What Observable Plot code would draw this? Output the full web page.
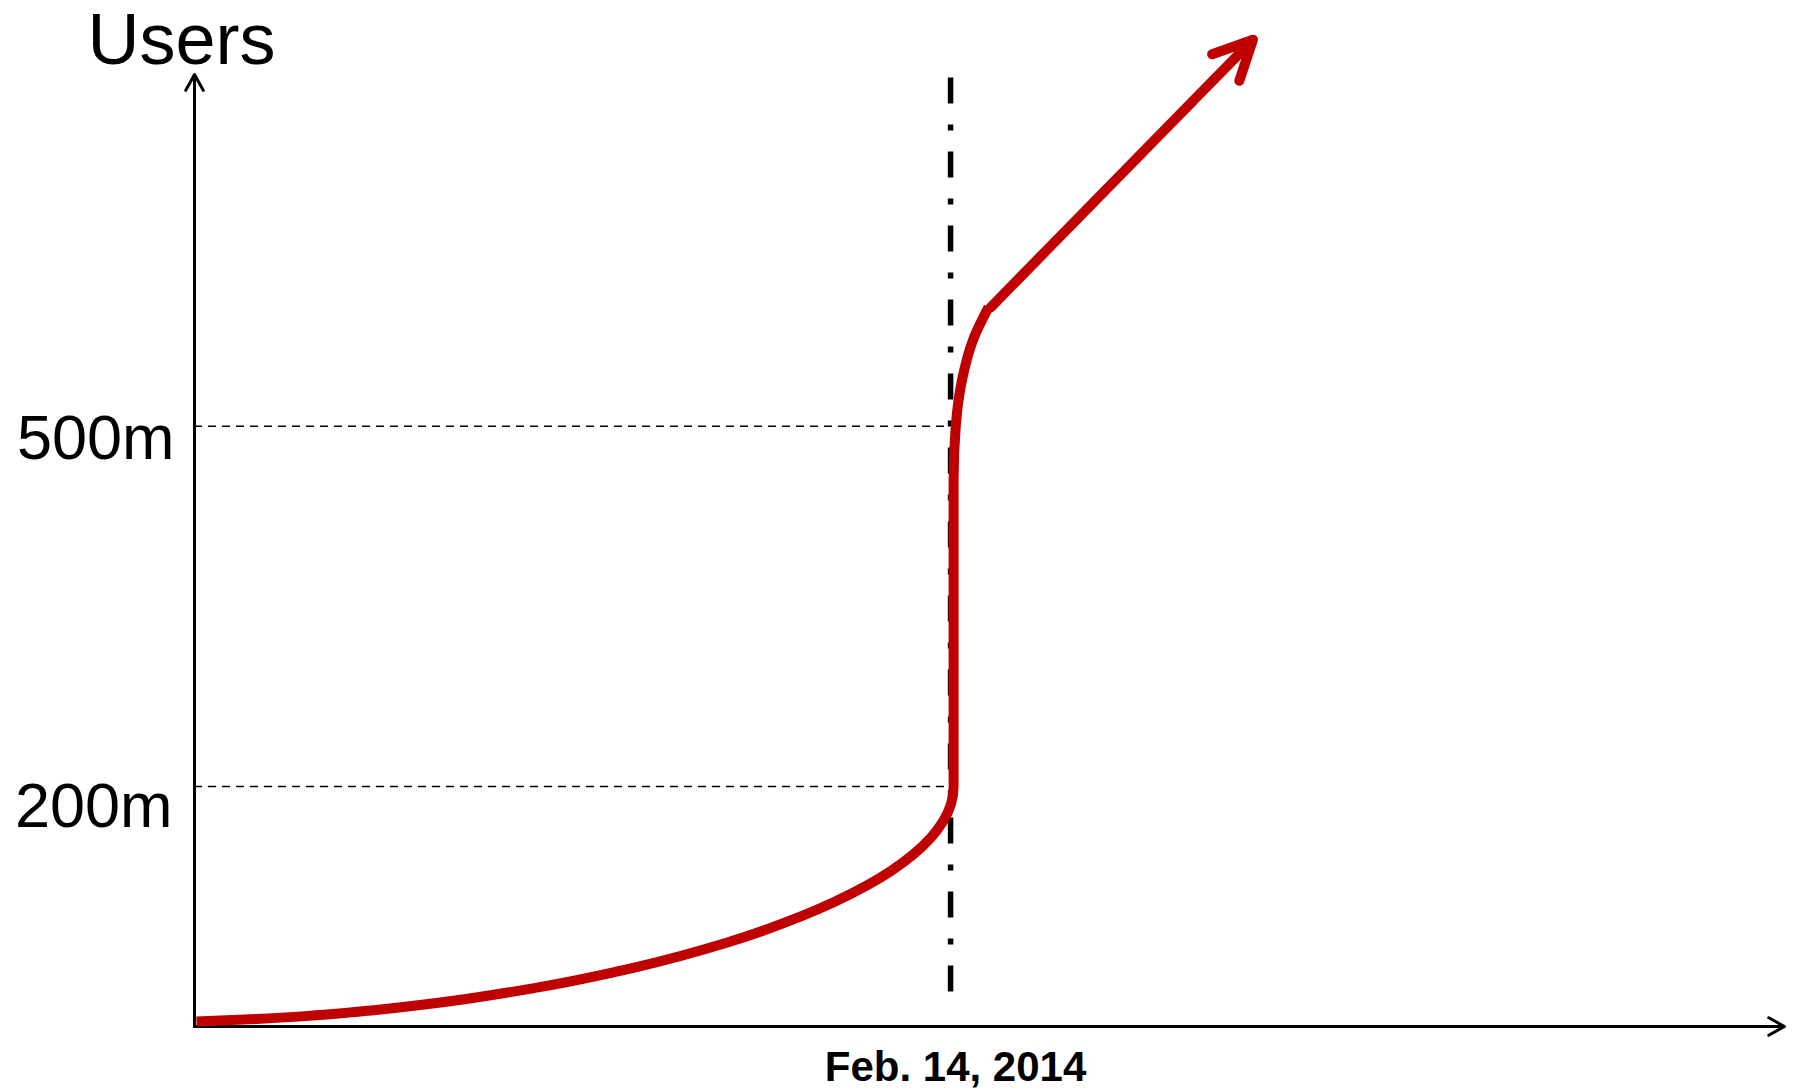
<!DOCTYPE html>
<html><head><meta charset="utf-8">
<script src="https://cdn.jsdelivr.net/npm/d3@7"></script>
<script src="https://cdn.jsdelivr.net/npm/@observablehq/plot@0.6"></script>
<style>
  html, body { margin: 0; padding: 0; background: #fff; }
  #chart svg { display: block; overflow: visible; }
</style>
</head><body><div id="chart"></div>
<script>
// ---- data (x = days, with Feb. 14, 2014 at day 1000; y = users in millions) ----
const curveDays  = [2.6, 82.1, 160.6, 237.3, 312, 454.5, 586, 703.7, 805.3, 888.8, 951.2, 990.3, 1000.5, 1004, 1004, 1004, 1004, 1007, 1015.7, 1030.2, 1050.3];
const curveUsers = [4.2, 6.2, 9.3, 13.6, 18.9, 32.6, 49.7, 69.75, 92.5, 117.25, 143.6, 171.1, 185.1, 199.2, 271.7, 355, 455, 501.2, 540.2, 572.7, 599.2];
const arrowDays  = [1053, 1400];
const arrowUsers = [599, 822];
const refLevels  = [200, 500];
const refLabels  = ["200m", "500m"];
const eventDay   = 1000;
const eventLabel = "Feb. 14, 2014";
const yTitle     = "Users";
const xMax = 2103, yMax = 793;

const curve = curveDays.map((d, i) => ({day: d, users: curveUsers[i]}));
const growth = [{x1: arrowDays[0], y1: arrowUsers[0], x2: arrowDays[1], y2: arrowUsers[1]}];
const axes = [{x1: 0, y1: 0, x2: 0, y2: yMax}, {x1: 0, y1: 0, x2: xMax, y2: 0}];
const fmt = d => refLabels[refLevels.indexOf(d)];

const red = "#c00000";
const plot = Plot.plot({
  width: 1793, height: 1091,
  marginTop: 74, marginRight: 9, marginBottom: 65, marginLeft: 194,
  style: {fontFamily: '"Liberation Sans", Arial, sans-serif', background: "white", color: "black", overflow: "visible"},
  x: {domain: [0, xMax], axis: null},
  y: {domain: [0, yMax], axis: null},
  marks: [
    Plot.ruleY(refLevels, {x1: 0, x2: eventDay, stroke: "black", strokeWidth: 1.5, strokeDasharray: "8,6", ariaLabel: "shadowed"}),
    Plot.ruleX([eventDay], {y1: 790, y2: 12, stroke: "black", strokeWidth: 5.5, strokeDasharray: "26,21,6,21", ariaLabel: "shadowed"}),
    Plot.arrow(axes, {x1: "x1", y1: "y1", x2: "x2", y2: "y2", stroke: "black", strokeWidth: 3, headLength: 9, headAngle: 58, ariaLabel: "shadowed"}),
    Plot.line(curve, {x: "day", y: "users", stroke: red, strokeWidth: 10, curve: "monotone-y", strokeLinecap: "butt", strokeLinejoin: "round"}),
    Plot.arrow(growth, {x1: "x1", y1: "y1", x2: "x2", y2: "y2", stroke: red, strokeWidth: 10, headLength: 6.5, headAngle: 52}),
    Plot.axisY([500], {tickSize: 0, tickPadding: 20, fontSize: 63, tickFormat: fmt, dy: 13, label: null}),
    Plot.axisY([200], {tickSize: 0, tickPadding: 22, fontSize: 63, tickFormat: fmt, dy: 20, label: null}),
    Plot.axisX([eventDay], {tickSize: 0, tickPadding: 25, fontSize: 42, fontWeight: "bold", tickFormat: () => eventLabel, dx: 5, label: null}),
    Plot.text([yTitle], {x: 0, y: yMax, text: d => d, fontSize: 72, dx: -13, dy: -11, lineAnchor: "bottom", textAnchor: "middle"})
  ]
});

// soft drop shadow on black lines (like the original slide)
const ns = "http://www.w3.org/2000/svg";
const defs = document.createElementNS(ns, "defs");
const filter = document.createElementNS(ns, "filter");
filter.setAttribute("id", "soft-shadow");
filter.setAttribute("filterUnits", "userSpaceOnUse");
filter.setAttribute("x", "0"); filter.setAttribute("y", "0");
filter.setAttribute("width", "1793"); filter.setAttribute("height", "1091");
const fe = document.createElementNS(ns, "feDropShadow");
fe.setAttribute("dx", "-3"); fe.setAttribute("dy", "3");
fe.setAttribute("stdDeviation", "4");
fe.setAttribute("flood-color", "black"); fe.setAttribute("flood-opacity", "0.18");
filter.appendChild(fe); defs.appendChild(filter);
plot.insertBefore(defs, plot.firstChild);
plot.querySelectorAll('g[aria-label="shadowed"]').forEach(g => g.setAttribute("filter", "url(#soft-shadow)"));

document.getElementById("chart").appendChild(plot);
</script>
</body></html>
